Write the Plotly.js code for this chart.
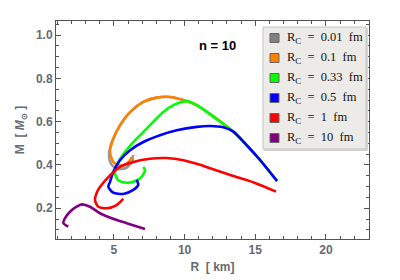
<!DOCTYPE html>
<html><head><meta charset="utf-8">
<script src="https://cdn.plot.ly/plotly-3.0.1.min.js"></script>
<style>html,body{margin:0;padding:0;background:#fff}#chart{width:400px;height:280px}</style>
</head><body><div id="chart"></div>
<script>
// Legend labels (R_C values in fm) and colours
const rcLabels = ['0.01', '0.1', '0.33', '0.5', '1', '10'];
const rcColors = ['#808080', '#FF8000', '#00FF00', '#0000FF', '#FF0000', '#800080'];

// Mass-radius curves: R [km], M [M_sun]
const R_001 = [6.35,6.28,5.85,5.22,4.79,4.65,4.72,4.95,5.43,6.14,7.08,8.03,8.97,9.91,10.86,11.80,12.74,13.45,14.39,15.34,16.54];
const M_001 = [0.446,0.414,0.386,0.382,0.405,0.442,0.479,0.521,0.583,0.644,0.691,0.711,0.714,0.700,0.676,0.635,0.590,0.554,0.492,0.423,0.326];

const R_01 = [6.26,6.14,5.78,5.31,4.95,4.84,4.72,4.95,5.43,6.14,7.08,8.03,8.97,9.91,10.86,11.80,12.74,13.45,14.39,15.34,16.54];
const M_01 = [0.437,0.422,0.401,0.399,0.414,0.429,0.460,0.521,0.583,0.644,0.691,0.711,0.714,0.700,0.676,0.635,0.590,0.554,0.492,0.423,0.326];

const R_033 = [7.08,7.20,6.96,6.49,5.90,5.31,5.07,5.19,5.31,5.78,6.37,7.08,7.78,8.49,9.20,9.79,10.26,10.86,11.80,12.74,13.45,14.39,15.34,16.54];
const M_033 = [0.391,0.376,0.345,0.325,0.318,0.329,0.360,0.391,0.414,0.460,0.506,0.552,0.599,0.645,0.676,0.691,0.694,0.676,0.635,0.590,0.554,0.492,0.423,0.326];

const R_05 = [6.61,6.72,6.37,5.66,4.95,4.60,4.72,4.95,5.43,6.14,7.08,8.26,9.44,10.86,11.80,12.74,13.45,14.39,15.34,16.54];
const M_05 = [0.331,0.308,0.285,0.266,0.272,0.300,0.321,0.368,0.422,0.468,0.506,0.537,0.560,0.576,0.580,0.574,0.554,0.492,0.423,0.326];

const R_1 = [5.66,5.19,4.49,3.89,3.66,3.82,4.01,4.72,5.43,6.37,7.55,8.73,9.91,11.09,11.80,13.45,14.98,16.47];
const M_1 = [0.243,0.215,0.200,0.207,0.238,0.277,0.298,0.352,0.391,0.414,0.429,0.432,0.422,0.401,0.385,0.349,0.317,0.277];

const R_10 = [1.77,1.42,1.54,1.89,2.36,2.72,3.30,4.01,4.84,5.90,7.20];
const M_10 = [0.115,0.131,0.154,0.184,0.207,0.218,0.207,0.177,0.154,0.131,0.104];

const curvesR = [R_001, R_01, R_033, R_05, R_1, R_10];
const curvesM = [M_001, M_01, M_033, M_05, M_1, M_10];

const xTicks = [5, 10, 15, 20];
const yTicks = [0.2, 0.4, 0.6, 0.8, 1.0];

// plot area in pixels (for placing the hand-built legend)
const L = 56, T = 21, W = 313, H = 218;
const px = x => (x - L) / W;
const py = y => (T + H - y) / H;

const traces = curvesR.map((r, i) => ({
  x: r, y: curvesM[i], type: 'scatter', mode: 'lines',
  line: {color: rcColors[i], width: 2.6, shape: 'spline', smoothing: 0.7},
  opacity: i === 0 ? 0.8 : 1,
  name: 'R_C = ' + rcLabels[i] + ' fm', showlegend: false, hoverinfo: 'skip'
}));

const shapes = [
  {type:'rect', xref:'paper', yref:'paper', x0:px(264), x1:px(368), y0:py(151), y1:py(28),
   fillcolor:'#d6d6d6', line:{width:0}},
  {type:'rect', xref:'paper', yref:'paper', x0:px(263), x1:px(366), y0:py(149), y1:py(27),
   fillcolor:'#EDEBE7', line:{color:'#c4c4c4', width:1}}
];
const annotations = [
  {xref:'paper', yref:'paper', x:px(217), y:py(45), text:'<b>n = 10</b>', showarrow:false,
   font:{family:'Liberation Sans, Arial', size:13, color:'#000'}, xanchor:'center', yanchor:'middle'}
];
rcLabels.forEach((lab, i) => {
  const cy = 38 + i * 20;
  shapes.push({type:'rect', xref:'paper', yref:'paper', x0:px(270), x1:px(279), y0:py(cy + 4.5), y1:py(cy - 4.5),
    fillcolor: rcColors[i], line:{color:'#666', width:1}});
  annotations.push({xref:'paper', yref:'paper', x:px(285), y:py(cy), xanchor:'left', yanchor:'middle',
    showarrow:false, text:'R<sub>C</sub>\u00A0 =\u00A0 ' + lab + '\u00A0 fm',
    font:{family:'Liberation Serif, Times New Roman, serif', size:12.5, color:'#111'}});
});

const tickFont = {family:'Liberation Sans, Arial', size:12, color:'#646a73', weight:'bold'};
const axisCommon = {
  showline:true, linecolor:'#555', linewidth:1, mirror:'ticks', ticks:'inside', ticklen:5,
  tickcolor:'#555', tickwidth:1, showgrid:false, zeroline:false, tickfont: tickFont,
  automargin:false
};

const layout = {
  width:400, height:280,
  margin:{l:L, r:400 - L - W, t:T, b:280 - T - H},
  paper_bgcolor:'#fff', plot_bgcolor:'#fff',
  xaxis: Object.assign({}, axisCommon, {
    range:[0.9, 23.05], tickvals:xTicks, ticktext:xTicks.map(String),
    minor:{dtick:1, tick0:0, ticks:'inside', ticklen:3, tickcolor:'#555'},
    title:{text:'R\u00A0 [ km]', font:{family:'Liberation Sans, Arial', size:12, color:'#646a73', weight:'bold'}, standoff:6}
  }),
  yaxis: Object.assign({}, axisCommon, {
    range:[0.058, 1.065], tickvals:yTicks, ticktext:yTicks.map(v => v.toFixed(1)),
    minor:{dtick:0.05, tick0:0, ticks:'inside', ticklen:3, tickcolor:'#555'},
    title:{text:'M\u00A0 [ <i>M</i><sub>\u2299</sub> ]', font:{family:'Liberation Sans, Arial', size:12, color:'#646a73', weight:'bold'}, standoff:8}
  }),
  shapes: shapes, annotations: annotations, showlegend:false
};

Plotly.newPlot('chart', traces, layout, {staticPlot:true, displayModeBar:false});
</script></body></html>
